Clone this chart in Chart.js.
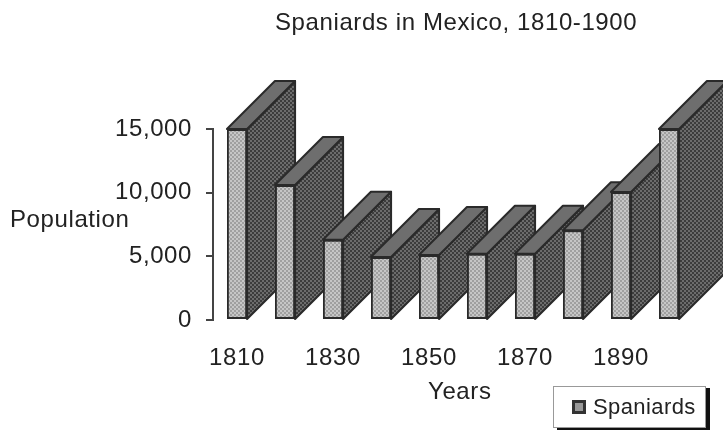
<!DOCTYPE html>
<html>
<head>
<meta charset="utf-8">
<title>Spaniards in Mexico, 1810-1900</title>
<script src="https://cdn.jsdelivr.net/npm/chart.js@4"></script>
<style>
  html, body { margin: 0; padding: 0; background: #fff; }
  #wrap { position: relative; width: 723px; height: 431px; overflow: hidden; }
  #legendBox {
    position: absolute; left: 553px; top: 386px; width: 151px; height: 40px;
    border: 1px solid #999; background: #fff;
    box-shadow: 4px 2px 0 #111;
    font: 22px "Liberation Sans", Arial, sans-serif; letter-spacing: 0.4px; color: #222;
    display: flex; align-items: center;
  }
  #legendBox i {
    display: inline-block; width: 8px; height: 8px; margin: 0 7px 0 18px;
    border: 3px solid #333; background: #999;
  }
</style>
</head>
<body>
<div id="wrap">
  <canvas id="barChart" width="723" height="431"></canvas>
  <div id="legendBox"><i></i>Spaniards</div>
</div>
<script>
const years = ['1810', '1820', '1830', '1840', '1850', '1860', '1870', '1880', '1890', '1900'];
const spaniards = [15000, 10600, 6300, 4950, 5100, 5200, 5200, 7050, 10050, 15000];
const yTicks = [0, 5000, 10000, 15000];

const FONT = '"Liberation Sans", Arial, sans-serif';
const SPACING = '0.6px';
const DEPTH = 48;

// small tile used to get the stippled print look on the bar faces
function stipple(light, dark) {
  const c = document.createElement('canvas');
  c.width = 4;
  c.height = 4;
  const g = c.getContext('2d');
  g.fillStyle = light;
  g.fillRect(0, 0, 4, 4);
  g.fillStyle = dark;
  g.fillRect(0, 0, 2, 2);
  g.fillRect(2, 2, 2, 2);
  return document.getElementById('barChart').getContext('2d').createPattern(c, 'repeat');
}

const frontFill = stipple('#c6c6c6', '#a0a0a0');
const sideFill = stipple('#6c6c6c', '#3c3c3c');

function poly(ctx, pts, fill) {
  ctx.beginPath();
  pts.forEach(function (p, i) {
    if (i === 0) ctx.moveTo(p[0], p[1]);
    else ctx.lineTo(p[0], p[1]);
  });
  ctx.closePath();
  ctx.fillStyle = fill;
  ctx.fill();
  ctx.lineWidth = 2;
  ctx.strokeStyle = '#2a2a2a';
  ctx.lineJoin = 'round';
  ctx.stroke();
}

// extrudes each bar backwards, left to right so later bars cover earlier ones
const extrude = {
  id: 'extrude',
  beforeUpdate(chart) {
    chart.ctx.letterSpacing = SPACING;
  },
  beforeDraw(chart) {
    chart.ctx.letterSpacing = SPACING;
  },
  beforeDatasetsDraw(chart) {
    const ctx = chart.ctx;
    chart.getDatasetMeta(0).data.forEach(function (bar) {
      const right = bar.x + bar.width / 2;
      const left = bar.x - bar.width / 2;
      const top = bar.y;
      const base = bar.base;
      ctx.save();
      poly(ctx, [[right, top], [right + DEPTH, top - DEPTH], [right + DEPTH, base - DEPTH], [right, base]], sideFill);
      poly(ctx, [[left, top], [left + DEPTH, top - DEPTH], [right + DEPTH, top - DEPTH], [right, top]], '#6e6e6e');
      ctx.restore();
    });
  },
  afterDraw(chart) {
    // chart title and axis captions, all set horizontally
    const ctx = chart.ctx;
    ctx.save();
    ctx.font = '24px ' + FONT;
    ctx.fillStyle = '#222';
    ctx.textBaseline = 'middle';
    ctx.textAlign = 'left';
    ctx.fillText('Spaniards in Mexico, 1810-1900', 275, 23);
    ctx.fillText('Population', 10, 220);
    ctx.fillText('Years', 428, 392);
    ctx.restore();
  }
};

new Chart(document.getElementById('barChart'), {
  type: 'bar',
  data: {
    labels: years,
    datasets: [{
      label: 'Spaniards',
      data: spaniards,
      backgroundColor: frontFill,
      borderColor: '#2a2a2a',
      borderWidth: 2,
      borderSkipped: false,
      barPercentage: 1,
      categoryPercentage: 0.42
    }]
  },
  plugins: [extrude],
  options: {
    responsive: false,
    animation: false,
    layout: { padding: { left: 0, right: 30, top: 129, bottom: 0 } },
    plugins: {
      legend: { display: false },
      tooltip: { enabled: false }
    },
    scales: {
      x: {
        afterFit(scale) { scale.height = 111; },
        grid: { display: false, drawTicks: false },
        border: { display: false },
        ticks: {
          color: '#222',
          padding: 24,
          maxRotation: 0,
          autoSkip: false,
          font: { family: FONT, size: 24 },
          callback(value, index) {
            return index % 2 === 0 ? years[index] : '';
          }
        }
      },
      y: {
        min: 0,
        max: 15000,
        afterFit(scale) { scale.width = 213; },
        afterBuildTicks(scale) {
          scale.ticks = yTicks.map(function (v) { return { value: v }; });
        },
        grid: { drawOnChartArea: false, color: '#444', tickLength: 7, lineWidth: 2 },
        border: { display: true, color: '#444', width: 2 },
        ticks: {
          color: '#222',
          padding: 14,
          font: { family: FONT, size: 24 },
          callback(value) { return value.toLocaleString('en-US'); }
        }
      }
    }
  }
});
</script>
</body>
</html>
